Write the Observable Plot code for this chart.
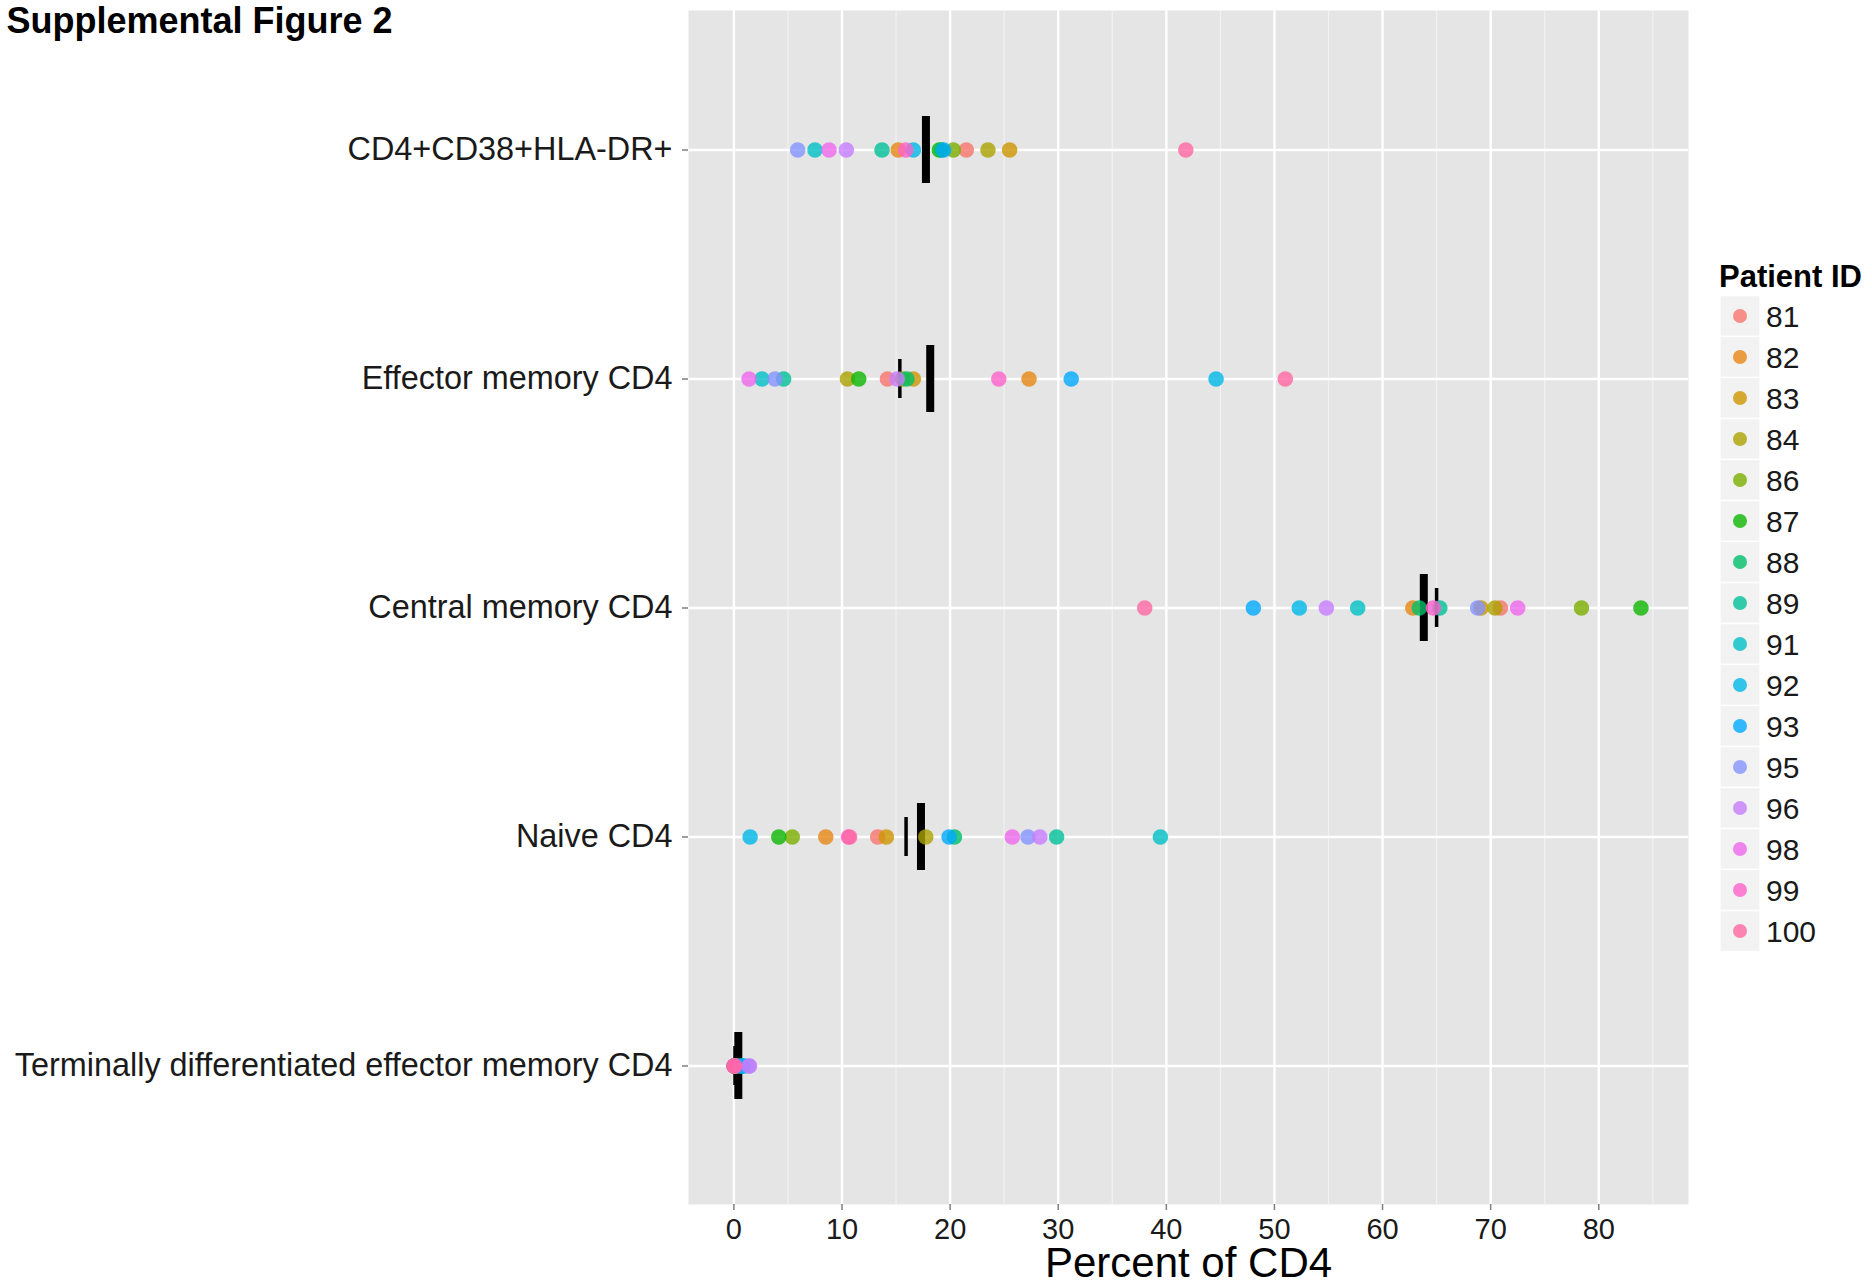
<!DOCTYPE html>
<html><head><meta charset="utf-8">
<script src="https://cdn.jsdelivr.net/npm/d3@7"></script>
<script src="https://cdn.jsdelivr.net/npm/@observablehq/plot@0.6"></script>
<style>
html,body{margin:0;padding:0;background:#fff;}
body{font-family:"Liberation Sans",Arial,Helvetica,sans-serif;}
#wrap{position:relative;width:1872px;height:1286px;overflow:hidden;}
#legend{position:absolute;left:0;top:0;}
</style></head><body>
<div id="wrap"><div id="chart"></div><svg id="legend" width="1872" height="1286"></svg></div>
<script>
// Categories (top to bottom)
const cells = ["CD4+CD38+HLA-DR+", "Effector memory CD4", "Central memory CD4", "Naive CD4", "Terminally differentiated effector memory CD4"];
const patients = ["81","82","83","84","86","87","88","89","91","92","93","95","96","98","99","100"];
const patientColors = ["#F8766D","#E68613","#CD9600","#ABA300","#7CAE00","#0CB702","#00BE67","#00C19A","#00BFC4","#00B8E7","#00A9FF","#8494FF","#C77CFF","#ED68ED","#FF61CC","#FF68A1"];
// Percent of CD4, in patient order
const activated = [21.5, 15.2, 25.5, 23.5, 20.3, 19.0, 19.2, 13.7, 7.5, 16.6, 19.4, 5.9, 10.4, 8.8, 15.9, 41.8];
const effectorMemory = [14.2, 27.3, 16.6, 10.5, 15.6, 11.55, 16.0, 4.6, 2.6, 44.6, 31.2, 3.8, 15.1, 1.4, 24.5, 51.0];
const centralMemory = [70.9, 62.8, 69.1, 70.4, 78.4, 83.9, 63.4, 65.3, 57.7, 52.3, 48.05, 68.8, 54.8, 72.5, 64.7, 38.0];
const naive = [13.3, 8.5, 14.1, 17.75, 5.4, 4.15, 20.4, 29.85, 39.45, 1.5, 19.9, 27.2, 28.3, 25.75, 10.6, 10.7];
const temra = [0.05, 0.1, 0.05, 0.3, 0.05, 0.05, 0.02, 0.7, 0.8, 0.9, 0.6, 1.35, 1.45, 0.1, 0.0, 0.02];
const xTicks = [0, 10, 20, 30, 40, 50, 60, 70, 80];
const xMinor = [5, 15, 25, 35, 45, 55, 65, 75, 85];
const xDomain = [-4.2, 88.3];
const figureTitle = "Supplemental Figure 2";
const xTitle = "Percent of CD4";
const legendTitle = "Patient ID";

const series = [activated, effectorMemory, centralMemory, naive, temra];
const data = [];
cells.forEach((c, ci) => patients.forEach((p, pi) => data.push({cell: c, patient: p, value: series[ci][pi]})));

const chart = Plot.plot({
  width: 1872, height: 1286,
  marginLeft: 688, marginRight: 184, marginTop: 10, marginBottom: 82,
  style: {fontFamily: "'Liberation Sans', Arial, sans-serif", background: "white"},
  x: {domain: xDomain, label: null},
  y: {type: "band", domain: cells, paddingInner: 0, paddingOuter: 0.1, label: null},
  color: {type: "ordinal", domain: patients, range: patientColors},
  marks: [
    Plot.frame({fill: "#E5E5E5", stroke: null}),
    Plot.gridX(xMinor, {stroke: "#F2F2F2", strokeOpacity: 1, strokeWidth: 1.2}),
    Plot.gridX(xTicks, {stroke: "#FFFFFF", strokeOpacity: 1, strokeWidth: 2.4}),
    Plot.gridY({stroke: "#FFFFFF", strokeOpacity: 1, strokeWidth: 2.4}),
    Plot.axisX(xTicks, {tickSize: 6, tickFormat: () => "", color: "#7f7f7f", strokeWidth: 1.5, label: null}),
    Plot.axisX(xTicks, {tickSize: 0, tickPadding: 14, fontSize: 29, color: "#1a1a1a", label: null}),
    Plot.axisY({tickSize: 6, tickFormat: () => "", color: "#7f7f7f", strokeWidth: 1.5, label: null}),
    Plot.axisY({tickSize: 0, tickPadding: 16, fontSize: 32.4, color: "#1a1a1a", label: null}),
    Plot.text([xTitle], {text: d => d, frameAnchor: "bottom", dy: 59, fontSize: 42, fill: "#000", lineAnchor: "middle"}),
    Plot.text([figureTitle], {text: d => d, frameAnchor: "top-left", dx: -682, dy: 11, fontSize: 36, fontWeight: "bold", fill: "#000", textAnchor: "start", lineAnchor: "middle"}),
    Plot.tickX(data, Plot.groupY({x: "mean"}, {x: "value", y: "cell", stroke: "black", strokeWidth: 8, insetTop: 81, insetBottom: 81})),
    Plot.tickX(data, Plot.groupY({x: "median"}, {x: "value", y: "cell", stroke: "black", strokeWidth: 3.5, insetTop: 95, insetBottom: 95})),
    Plot.dot(data, {x: "value", y: "cell", fill: "patient", r: 7.8, fillOpacity: 0.8, stroke: null})
  ]
});
document.getElementById("chart").appendChild(chart);

// Legend built from the plot's colour scale
const cs = chart.scale("color");
const lg = d3.select("#legend");
lg.append("text").attr("x", 1719).attr("y", 276).attr("dy", "0.36em")
  .attr("font-family", "'Liberation Sans', Arial, sans-serif").attr("font-weight", "bold").attr("font-size", 31).attr("fill", "#000").text(legendTitle);
const keyTop = 295.5, keyH = 41, keyW = 40, keyX = 1720;
cs.domain.forEach((p, i) => {
  const y0 = keyTop + i * keyH;
  lg.append("rect").attr("x", keyX).attr("y", y0).attr("width", keyW).attr("height", keyH)
    .attr("fill", "#F2F2F2").attr("stroke", "#FFFFFF").attr("stroke-width", 1.5);
  lg.append("circle").attr("cx", keyX + keyW / 2).attr("cy", y0 + keyH / 2).attr("r", 7)
    .attr("fill", cs.range[i]).attr("fill-opacity", 0.8);
  lg.append("text").attr("x", 1766).attr("y", y0 + keyH / 2).attr("dy", "0.36em")
    .attr("font-family", "'Liberation Sans', Arial, sans-serif").attr("font-size", 30).attr("fill", "#1a1a1a").text(p);
});
</script>
</body></html>
